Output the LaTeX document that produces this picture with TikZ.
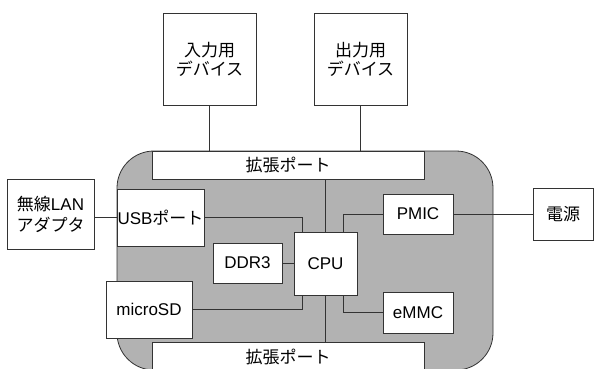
\documentclass[tikz,border=0pt]{standalone}
\usepackage{fontspec}
\setmainfont{Liberation Sans}
\newfontfamily\jpfont{Noto Sans CJK JP}
\usetikzlibrary{positioning}

\begin{document}
\begin{tikzpicture}[x=1pt,y=-1pt,
    part/.style={rectangle,draw=black!80,fill=white,line width=0.8pt,align=center,inner sep=0pt,font=\fontsize{17}{19}\selectfont},
    board/.style={rectangle,draw=black!80,fill=gray!60,line width=0.8pt,rounded corners=37pt,inner sep=0pt},
    link/.style={draw=black!80,line width=0.8pt}]
    \useasboundingbox (0,0) rectangle (594,369);
    % base board
    \node[board,minimum width=376pt,minimum height=219pt] (board) at (305,260.5) {};
    % parts on the board
    \node[part,minimum width=272pt,minimum height=28pt] (porttop) at (288,165) {\jpfont 拡張ポート};
    \node[part,minimum width=272pt,minimum height=30pt] (portbot) at (288,357) {\jpfont 拡張ポート};
    \node[part,minimum width=87pt,minimum height=57pt] (usb) at (160.5,217.5) {USB{\jpfont ポート}};
    \node[part,minimum width=69pt,minimum height=40pt] (ddr) at (247.5,263) {DDR3};
    \node[part,minimum width=63pt,minimum height=63pt] (cpu) at (325.5,263.5) {CPU};
    \node[part,minimum width=86pt,minimum height=57pt] (sd) at (149,309.5) {microSD};
    \node[part,minimum width=70pt,minimum height=40pt] (pmic) at (418,214) {PMIC};
    \node[part,minimum width=70pt,minimum height=41pt] (emmc) at (418,312.5) {eMMC};
    % outside devices
    \node[part,minimum width=93pt,minimum height=92pt] (indev) at (209.5,59) {\jpfont 入力用\\\jpfont デバイス};
    \node[part,minimum width=93pt,minimum height=92pt] (outdev) at (360.5,59) {\jpfont 出力用\\\jpfont デバイス};
    \node[part,minimum width=87pt,minimum height=70pt,font=\fontsize{17}{21}\selectfont] (lan) at (50.5,214) {{\jpfont 無線}LAN\\\jpfont アダプタ};
    \node[part,minimum width=60pt,minimum height=52pt] (power) at (563,214) {\jpfont 電源};
    % connections
    \draw[link] (indev) -- (indev |- porttop.north);
    \draw[link] (outdev) -- (outdev |- porttop.north);
    \draw[link] (usb.west) -- (usb.west -| lan.east);
    \draw[link] (pmic) -- (power);
    \draw[link] (porttop.south -| cpu) -- (cpu.north);
    \draw[link] (cpu.south) -- (portbot.north -| cpu);
    \draw[link] (ddr) -- (ddr -| cpu.west);
    \draw[link] (usb.east) -| ([xshift=9pt]cpu.north west);
    \draw[link] (sd.east) -| ([xshift=9pt]cpu.south west);
    \draw[link] (pmic.west) -| ([xshift=-14pt]cpu.north east);
    \draw[link] (emmc.west) -| ([xshift=-14pt]cpu.south east);
\end{tikzpicture}
\end{document}
